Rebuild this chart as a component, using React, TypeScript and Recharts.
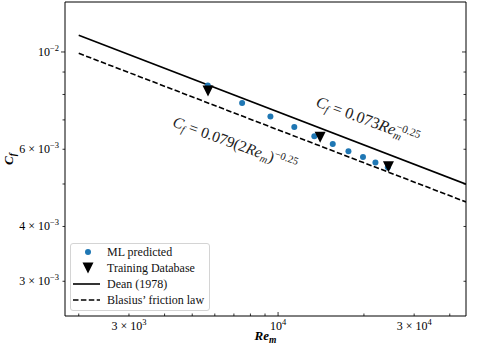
import React from 'react';
import { ComposedChart, Line, Scatter, XAxis, YAxis, ReferenceDot, Legend } from 'recharts';

// correlation lines (two points each, straight on log-log axes)
const lineRe = [2000, 45600];
const deanCf = [0.01092, 0.004995];
const blasiusCf = [0.00993, 0.00455];

// ML predicted points
const mlRe = [5670, 7480, 9400, 11400, 13400, 15550, 17650, 19850, 21950, 24250];
const mlCf = [0.00839, 0.00765, 0.00713, 0.00674, 0.00642, 0.00617, 0.00594, 0.00576, 0.0056, 0.00546];

// training database points
const trainRe = [5680, 14040, 24380];
const trainCf = [0.00815, 0.00639, 0.00547];

const xTicks = [2000, 3000, 4000, 5000, 6000, 7000, 8000, 9000, 10000, 20000, 30000, 40000];
const xTickLabels: Record<string, [string, string]> = {
  '3000': ['3 × 10', '3'],
  '10000': ['10', '4'],
  '30000': ['3 × 10', '4'],
};
const yTicks = [0.003, 0.004, 0.005, 0.006, 0.007, 0.008, 0.009, 0.01];
const yTickLabels: Record<string, [string, string]> = {
  '0.003': ['3 × 10', '−3'],
  '0.004': ['4 × 10', '−3'],
  '0.006': ['6 × 10', '−3'],
  '0.01': ['10', '−2'],
};

// annotation anchors (centre of each rotated label)
const annoRe = [20640, 7063];
const annoCf = [0.006982, 0.006178];

const FONT = '"Liberation Serif", "Times New Roman", serif';
const BLUE = '#1f77b4';

const deanData = lineRe.map((re, i) => ({ re, cf: deanCf[i] }));
const blasiusData = lineRe.map((re, i) => ({ re, cf: blasiusCf[i] }));
const mlData = mlRe.map((re, i) => ({ re, cf: mlCf[i] }));
const trainData = trainRe.map((re, i) => ({ re, cf: trainCf[i] }));

const MAJOR = 4;
const MINOR = 2.5;

function BottomTick({ x, y, payload }: any) {
  const lab = xTickLabels[String(payload.value)];
  const len = payload.value === 10000 ? MAJOR : MINOR;
  return (
    <g>
      <line x1={x} x2={x} y1={y} y2={y - len} stroke="#000" strokeWidth={0.8} />
      {lab && (
        <text x={x} y={y + 14} textAnchor="middle" fontFamily={FONT} fontSize={12} fill="#000">
          {lab[0]}
          <tspan dy={-5} fontSize={8.5}>{lab[1]}</tspan>
        </text>
      )}
    </g>
  );
}

function LeftTick({ x, y, payload }: any) {
  const lab = yTickLabels[String(payload.value)];
  const len = payload.value === 0.01 ? MAJOR : MINOR;
  return (
    <g>
      <line x1={x} x2={x - len} y1={y} y2={y} stroke="#000" strokeWidth={0.8} />
      {lab && (
        <text x={x - 6} y={y + 4} textAnchor="end" fontFamily={FONT} fontSize={12} fill="#000">
          {lab[0]}
          <tspan dy={-5} fontSize={8.5}>{lab[1]}</tspan>
        </text>
      )}
    </g>
  );
}

function RightTick({ x, y, payload }: any) {
  const len = payload.value === 0.01 ? MAJOR : MINOR;
  return <line x1={x} x2={x - len} y1={y} y2={y} stroke="#000" strokeWidth={0.8} />;
}

const renderXLabel = ({ viewBox }: any) => (
  <text
    x={viewBox.x + viewBox.width / 2}
    y={viewBox.y + 24}
    textAnchor="middle"
    fontFamily={FONT}
    fontSize={13}
    fontStyle="italic"
    fontWeight="bold"
    fill="#000"
  >
    Re<tspan dy={3} fontSize={9.5}>m</tspan>
  </text>
);

const renderYLabel = ({ viewBox }: any) => {
  const cx = viewBox.x + 13;
  const cy = viewBox.y + viewBox.height / 2;
  return (
    <text
      x={cx}
      y={cy}
      transform={`rotate(-90, ${cx}, ${cy})`}
      textAnchor="middle"
      fontFamily={FONT}
      fontSize={13}
      fontStyle="italic"
      fontWeight="bold"
      fill="#000"
    >
      C<tspan dy={3} fontSize={9.5}>f</tspan>
    </text>
  );
};

const deanText = ({ cx, cy }: any) => (
  <text
    x={cx}
    y={cy + 5}
    transform={`rotate(20.5, ${cx}, ${cy})`}
    textAnchor="middle"
    fontFamily={FONT}
    fontSize={16}
    fill="#222"
  >
    <tspan fontStyle="italic">C</tspan>
    <tspan dy={3} fontSize={11} fontStyle="italic">f</tspan>
    <tspan dy={-3}> = 0.073</tspan>
    <tspan fontStyle="italic">Re</tspan>
    <tspan dy={3} fontSize={11} fontStyle="italic">m</tspan>
    <tspan dy={-9} dx={-8} fontSize={11}>−0.25</tspan>
  </text>
);

const blasiusText = ({ cx, cy }: any) => (
  <text
    x={cx}
    y={cy + 5}
    transform={`rotate(20, ${cx}, ${cy})`}
    textAnchor="middle"
    fontFamily={FONT}
    fontSize={15.5}
    fill="#222"
  >
    <tspan fontStyle="italic">C</tspan>
    <tspan dy={3} fontSize={10.5} fontStyle="italic">f</tspan>
    <tspan dy={-3}> = 0.079(2</tspan>
    <tspan fontStyle="italic">Re</tspan>
    <tspan dy={3} fontSize={10.5} fontStyle="italic">m</tspan>
    <tspan dy={-3}>)</tspan>
    <tspan dy={-6} fontSize={10.5}>−0.25</tspan>
  </text>
);

const Dot = ({ cx, cy }: any) => <circle cx={cx} cy={cy} r={3} fill={BLUE} />;
const Tri = ({ cx, cy }: any) => (
  <path d={`M${cx - 5.5},${cy - 5.5}L${cx + 5.5},${cy - 5.5}L${cx},${cy + 5.5}Z`} fill="#000" />
);

const legendRows = [
  { name: 'ML predicted', kind: 'dot' },
  { name: 'Training Database', kind: 'tri' },
  { name: 'Dean (1978)', kind: 'solid' },
  { name: 'Blasius’ friction law', kind: 'dash' },
];

const renderLegend = () => (
  <div
    style={{
      width: 140,
      height: 68,
      boxSizing: 'border-box',
      border: '1px solid #d4d4d4',
      borderRadius: 3,
      background: 'rgba(255,255,255,0.85)',
      fontFamily: FONT,
      fontSize: 12,
      color: '#111',
      position: 'relative',
    }}
  >
    {legendRows.map((r, i) => (
      <div key={r.name} style={{ position: 'absolute', left: 0, top: i * 16, height: 16, width: 140 }}>
        <svg width={32} height={16} style={{ position: 'absolute', left: 1, top: 0 }}>
          {r.kind === 'dot' && <circle cx={16} cy={8} r={3} fill={BLUE} />}
          {r.kind === 'tri' && <path d="M10.5,2.5L21.5,2.5L16,13.5Z" fill="#000" />}
          {r.kind === 'solid' && <line x1={1} x2={28} y1={8} y2={8} stroke="#000" strokeWidth={1.6} />}
          {r.kind === 'dash' && (
            <line x1={1} x2={28} y1={8} y2={8} stroke="#000" strokeWidth={1.6} strokeDasharray="5.5 2.4" />
          )}
        </svg>
        <span style={{ position: 'absolute', left: 36, top: 0, lineHeight: '16px', whiteSpace: 'nowrap' }}>
          {r.name}
        </span>
      </div>
    ))}
  </div>
);

export default function App() {
  return (
    <div style={{ position: 'absolute', left: 0, top: 0, width: 479, height: 344, background: '#fff' }}>
      <ComposedChart width={479} height={344} margin={{ top: 0, right: 0, bottom: 0, left: 0 }}>
        <XAxis
          dataKey="re"
          type="number"
          scale="log"
          domain={[1790, 45600]}
          allowDataOverflow
          ticks={xTicks}
          interval={0}
          tick={<BottomTick />}
          tickLine={false}
          tickSize={0}
          tickMargin={0}
          height={28}
          axisLine={{ stroke: '#000', strokeWidth: 1 }}
          label={{ content: renderXLabel }}
        />
        <XAxis
          xAxisId="t"
          orientation="top"
          dataKey="re"
          type="number"
          scale="log"
          domain={[1790, 45600]}
          allowDataOverflow
          tick={false}
          tickLine={false}
          height={2}
          axisLine={{ stroke: '#000', strokeWidth: 1 }}
        />
        <YAxis
          dataKey="cf"
          type="number"
          scale="log"
          domain={[0.0025, 0.013]}
          allowDataOverflow
          ticks={yTicks}
          interval={0}
          tick={<LeftTick />}
          tickLine={false}
          tickSize={0}
          tickMargin={0}
          width={65}
          axisLine={{ stroke: '#000', strokeWidth: 1 }}
          label={{ content: renderYLabel }}
        />
        <YAxis
          yAxisId="r"
          orientation="right"
          dataKey="cf"
          type="number"
          scale="log"
          domain={[0.0025, 0.013]}
          allowDataOverflow
          ticks={yTicks}
          interval={0}
          tick={<RightTick />}
          tickLine={false}
          tickSize={0}
          tickMargin={0}
          width={13}
          axisLine={{ stroke: '#000', strokeWidth: 1 }}
        />
        <Line
          data={deanData}
          dataKey="cf"
          name="Dean (1978)"
          type="linear"
          stroke="#000"
          strokeWidth={1.6}
          dot={false}
          activeDot={false}
          isAnimationActive={false}
        />
        <Line
          data={blasiusData}
          dataKey="cf"
          name="Blasius’ friction law"
          type="linear"
          stroke="#000"
          strokeWidth={1.6}
          strokeDasharray="5.5 2.4"
          dot={false}
          activeDot={false}
          isAnimationActive={false}
        />
        <Scatter data={mlData} dataKey="cf" name="ML predicted" shape={<Dot />} isAnimationActive={false} />
        <Scatter data={trainData} dataKey="cf" name="Training Database" shape={<Tri />} isAnimationActive={false} />
        <ReferenceDot x={annoRe[0]} y={annoCf[0]} r={0} shape={deanText} ifOverflow="visible" />
        <ReferenceDot x={annoRe[1]} y={annoCf[1]} r={0} shape={blasiusText} ifOverflow="visible" />
        <Legend
          layout="vertical"
          align="center"
          verticalAlign="middle"
          content={renderLegend}
          wrapperStyle={{ left: 70, top: 243, width: 140, height: 68 }}
        />
      </ComposedChart>
    </div>
  );
}
